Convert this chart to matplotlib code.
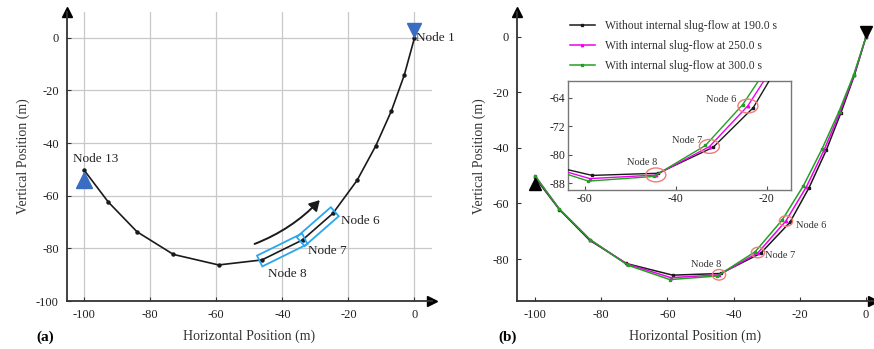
import numpy as np
import matplotlib
matplotlib.use("Agg")
import matplotlib.pyplot as plt
from matplotlib.patches import Polygon, Ellipse, FancyArrowPatch

plt.rcParams['font.family'] = ['Liberation Serif', 'DejaVu Serif']
plt.rcParams['axes.unicode_minus'] = False

# ---- data ----
# panel (a): static pipeline configuration (nodes 1..13)
xa = [0, -3.1, -7.0, -11.7, -17.4, -24.7, -33.9, -46.2, -59.3, -73.0, -84.0, -92.7, -100]
ya = [0, -14.2, -27.8, -41.0, -54.2, -66.7, -76.8, -84.4, -86.3, -82.3, -73.7, -62.4, -50.3]

# panel (b): three time instants
x_190 = [0, -3.5, -7.6, -12.0, -17.2, -23.0, -31.8, -43.9, -58.4, -72.4, -83.5, -92.6, -100]
y_190 = [0, -13.8, -27.4, -40.8, -54.3, -66.8, -77.9, -85.2, -85.8, -81.6, -73.2, -62.2, -50.6]
x_250 = [0, -3.6, -7.9, -12.6, -18.0, -24.2, -32.6, -44.4, -58.9, -72.2, -83.4, -92.6, -100]
y_250 = [0, -13.7, -27.2, -40.6, -54.0, -66.3, -77.7, -85.7, -86.7, -81.8, -73.0, -62.0, -50.0]
x_300 = [0, -3.7, -8.2, -13.3, -18.9, -25.3, -33.5, -44.9, -59.2, -72.0, -83.3, -92.6, -100]
y_300 = [0, -13.6, -27.0, -40.4, -53.6, -65.9, -77.4, -86.1, -87.4, -82.2, -73.0, -62.0, -50.0]

labels_b = ["Without internal slug-flow at 190.0 s",
            "With internal slug-flow at 250.0 s",
            "With internal slug-flow at 300.0 s"]
xticks = [-100, -80, -60, -40, -20, 0]
yticks_a = [-100, -80, -60, -40, -20, 0]
yticks_b = [-80, -60, -40, -20, 0]
inset_xticks = [-60, -40, -20]
inset_yticks = [-88, -80, -72, -64]

W, H = 874, 349
fig = plt.figure(figsize=(W / 100, H / 100), dpi=100)

spine_col = '#333333'

def style_axes(ax):
    for s in ['top', 'right']:
        ax.spines[s].set_visible(False)
    for s in ['left', 'bottom']:
        ax.spines[s].set_color(spine_col)
        ax.spines[s].set_linewidth(1.3)
    ax.tick_params(direction='in', length=3, width=0.8, color=spine_col,
                   labelsize=9, labelcolor='#222222')
    ax.plot([0], [1], marker='^', color='black', markersize=7,
            transform=ax.transAxes, clip_on=False)
    ax.plot([1], [0], marker='>', color='black', markersize=7,
            transform=ax.transAxes, clip_on=False)

# ---------------- panel (a) ----------------
axa = fig.add_axes([67 / W, 1 - 301 / H, 365 / W, 289 / H])
axa.set_xlim(-105.2, 5.3)
axa.set_ylim(-100, 9.8)
style_axes(axa)
axa.set_xticks(xticks)
axa.set_yticks(yticks_a)
axa.grid(True, color='#c8c8c8', linewidth=0.9)
axa.set_axisbelow(True)
axa.tick_params(pad=6)

axa.plot(xa, ya, color='#1a1a1a', linewidth=1.2, marker='o', markersize=2.2, zorder=3)
axa.plot([xa[0]], [ya[0] + 2.8], marker='v', color='#3b6cc4', markersize=10, zorder=4, clip_on=False)
axa.plot([xa[-1]], [ya[-1] - 3.6], marker='^', color='#3b6cc4', markersize=11, zorder=4)

fs_node_a = 9.5
axa.text(xa[0] + 0.6, ya[0], "Node 1", fontsize=fs_node_a, va='center', ha='left', color='#222222')
axa.text(xa[-1] - 3.3, ya[-1] + 4.2, "Node 13", fontsize=fs_node_a, va='center', ha='left', color='#222222')
axa.text(xa[5] + 2.6, ya[5] - 3.0, "Node 6", fontsize=fs_node_a, va='center', ha='left', color='#222222')
axa.text(xa[6] + 1.6, ya[6] - 4.2, "Node 7", fontsize=fs_node_a, va='center', ha='left', color='#222222')
axa.text(xa[7] + 1.8, ya[7] - 5.4, "Node 8", fontsize=fs_node_a, va='center', ha='left', color='#222222')

fig.canvas.draw()

def rect_between(ax, p1, p2, ext, hw):
    t = ax.transData
    a = t.transform(p1)
    b = t.transform(p2)
    d = (b - a) / np.linalg.norm(b - a)
    n = np.array([-d[1], d[0]])
    a2 = a - ext * d
    b2 = b + ext * d
    pts = np.array([a2 + hw * n, b2 + hw * n, b2 - hw * n, a2 - hw * n])
    return t.inverted().transform(pts)

for i, j in [(7, 6), (6, 5)]:
    pts = rect_between(axa, (xa[i], ya[i]), (xa[j], ya[j]), 2.5, 6)
    axa.add_patch(Polygon(pts, closed=True, fill=False, edgecolor='#2aa6ee', linewidth=1.3, zorder=5))

arr = FancyArrowPatch((-49.2, -78.7), (-28.1, -60.9), connectionstyle='arc3,rad=0.12',
                      arrowstyle='-|>,head_length=6,head_width=3.5', color='#1a1a1a',
                      linewidth=1.4, zorder=5)
axa.add_patch(arr)

axa.set_xlabel("Horizontal Position (m)", fontsize=10, color='#333333', labelpad=6)
axa.set_ylabel("Vertical Position (m)", fontsize=10, color='#333333', labelpad=4)
fig.text(36 / W, 1 - 337 / H, "(a)", fontsize=11, fontweight='bold', va='center', ha='left')

# ---------------- panel (b) ----------------
axb = fig.add_axes([517 / W, 1 - 301 / H, 356 / W, 289 / H])
axb.set_xlim(-105.4, 2.1)
axb.set_ylim(-95.1, 8.9)
style_axes(axb)
axb.set_xticks(xticks)
axb.set_yticks(yticks_b)
axb.tick_params(pad=6)

cols = ['#1a1a1a', '#ee00ee', '#22a022']
mks = ['s', '^', 's']
series = [(x_190, y_190), (x_250, y_250), (x_300, y_300)]

def draw_series(ax, lw=1.1, ms=1.7):
    hs = []
    for (xs, ys), c, m, lab in zip(series, cols, mks, labels_b):
        h, = ax.plot(xs, ys, color=c, linewidth=lw, marker=m, markersize=ms, label=lab, zorder=3)
        hs.append(h)
    return hs

hs = draw_series(axb)
axb.plot([0], [1.8], marker='v', color='black', markersize=9, zorder=4, clip_on=False)
axb.plot([-100], [-53.0], marker='^', color='black', markersize=9, zorder=4)

def node_center(k):
    return (np.mean([x_190[k], x_250[k], x_300[k]]), np.mean([y_190[k], y_250[k], y_300[k]]))

for k in [5, 6, 7]:
    cx, cy = node_center(k)
    axb.add_patch(Ellipse((cx, cy), 4.0, 3.8, fill=False, edgecolor='#f07a7a', linewidth=1.0, zorder=5))

fs_node_b = 7.5
axb.text(-21.1, -68.0, "Node 6", fontsize=fs_node_b, va='center', ha='left', color='#333333')
axb.text(-30.5, -78.8, "Node 7", fontsize=fs_node_b, va='center', ha='left', color='#333333')
axb.text(-52.9, -82.1, "Node 8", fontsize=fs_node_b, va='center', ha='left', color='#333333')

leg = axb.legend(handles=hs, loc='upper left', bbox_to_anchor=(0.12, 1.01), frameon=False,
                 fontsize=8.4, handlelength=2.1, labelspacing=0.72, handletextpad=0.9,
                 labelcolor='#333333')

axb.set_xlabel("Horizontal Position (m)", fontsize=10, color='#333333', labelpad=6)
axb.set_ylabel("Vertical Position (m)", fontsize=10, color='#333333', labelpad=4)
fig.text(498 / W, 1 - 337 / H, "(b)", fontsize=11, fontweight='bold', va='center', ha='left')

# ---------------- inset ----------------
axi = fig.add_axes([568 / W, 1 - 190 / H, 223 / W, 109 / H])
axi.set_xlim(-63.7, -14.7)
axi.set_ylim(-89.9, -59.3)
draw_series(axi, lw=1.0, ms=1.9)
for s in axi.spines.values():
    s.set_color('#777777')
    s.set_linewidth(1.0)
axi.set_xticks(inset_xticks)
axi.set_yticks(inset_yticks)
axi.tick_params(direction='in', length=3, labelsize=8.5, pad=2, color='#555555', labelcolor='#222222')
for k in [5, 6, 7]:
    cx, cy = node_center(k)
    axi.add_patch(Ellipse((cx, cy), 4.4, 3.9, fill=False, edgecolor='#f07a7a', linewidth=1.0, zorder=5))
axi.text(-33.4, -64.6, "Node 6", fontsize=7.5, va='center', ha='left', color='#333333')
axi.text(-40.9, -76.1, "Node 7", fontsize=7.5, va='center', ha='left', color='#333333')
axi.text(-50.8, -82.3, "Node 8", fontsize=7.5, va='center', ha='left', color='#333333')

fig.savefig("out.png", dpi=100)
